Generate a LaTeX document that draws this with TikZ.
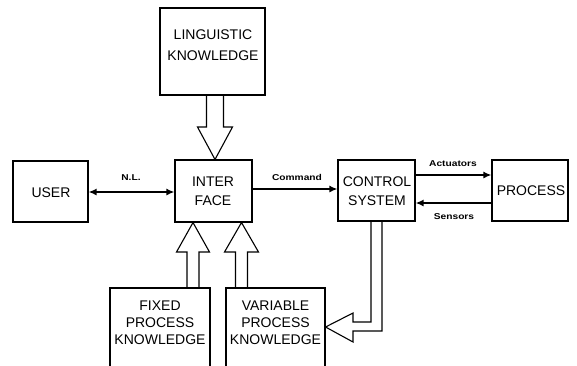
\documentclass[tikz,border=0pt]{standalone}
\usepackage{fontspec}
\setmainfont{Liberation Sans}
\usetikzlibrary{arrows.meta,calc}
\begin{document}
\begin{tikzpicture}[x=1pt,y=-1pt,
  box/.style={draw,line width=1.1pt,minimum width=#1,inner sep=0pt},
  boxtxt/.style={anchor=base,inner sep=0pt,font=\fontsize{14}{17}\selectfont},
  lbl/.style={inner sep=0pt,font=\fontsize{8.5}{10}\selectfont\bfseries},
  conn/.style={line width=1.7pt,-{Latex[length=8pt,width=7pt]}},
  hollow/.style={draw,line width=1.1pt,line join=miter}]
\useasboundingbox (0,0) rectangle (577,365);
\clip (0,0) rectangle (577,365);
% boxes
\node[box=105pt,minimum height=87pt] (ling) at (212.5,51.5) {};
\node[box=75pt,minimum height=61pt] (user) at (50.5,191.5) {};
\node[box=77pt,minimum height=62pt] (iface) at (213.5,191) {};
\node[box=77pt,minimum height=61pt] (ctrl) at (376.5,190.5) {};
\node[box=76pt,minimum height=61pt] (proc) at (530,190.5) {};
\node[box=100pt,minimum height=87pt] (fixed) at (160,331.5) {};
\node[box=99pt,minimum height=87pt] (var) at (275.5,331.5) {};
% box texts
\node[boxtxt] (lingA) at (213,39) {LINGUISTIC};
\node[boxtxt] (lingB) at (213,60) {KNOWLEDGE};
\node[boxtxt] (userA) at (51,197) {USER};
\node[boxtxt] (ifaceA) at (213,186) {INTER};
\node[boxtxt] (ifaceB) at (213,205) {FACE};
\node[boxtxt] (ctrlA) at (377,186) {CONTROL};
\node[boxtxt] (ctrlB) at (377,205) {SYSTEM};
\node[boxtxt] (procA) at (531,195) {PROCESS};
\node[boxtxt] (fixA) at (160,310) {FIXED};
\node[boxtxt] (fixB) at (160,327) {PROCESS};
\node[boxtxt] (fixC) at (160,344) {KNOWLEDGE};
\node[boxtxt] (varA) at (275.5,310) {VARIABLE};
\node[boxtxt] (varB) at (275.5,327) {PROCESS};
\node[boxtxt] (varC) at (275.5,344) {KNOWLEDGE};
% thin connectors
\draw[conn,{Latex[length=8pt,width=7pt]}-{Latex[length=8pt,width=7pt]}] (user.east |- 0,192) -- (iface.west |- 0,192);
\draw[conn] (iface.east |- 0,189) -- (ctrl.west |- 0,189);
\draw[conn] (ctrl.east |- 0,175) -- (proc.west |- 0,175);
\draw[conn] (proc.west |- 0,203) -- (ctrl.east |- 0,203);
% labels
\node[lbl] (nl) at (131,178) {\scalebox{1.2}[1]{N.L.}};
\node[lbl] (cmd) at (297,177) {\scalebox{1.2}[1]{Command}};
\node[lbl] (act) at (453,164) {\scalebox{1.2}[1]{Actuators}};
\node[lbl] (sen) at (454,217) {\scalebox{1.2}[1]{Sensors}};
% hollow arrows
\draw[hollow] (ling.south -| 206.5,0) -- (206.5,127) -- (197.5,127) -- (iface.north -| 215,0) -- (232.5,127) -- (223.5,127) -- (ling.south -| 223.5,0);
\draw[hollow] (fixed.north -| 187,0) -- (187,252) -- (176.5,252) -- (iface.south -| 193,0) -- (209.5,252) -- (199,252) -- (fixed.north -| 199,0);
\draw[hollow] (var.north -| 235.5,0) -- (235.5,252) -- (224.5,252) -- (iface.south -| 241.5,0) -- (258.5,252) -- (247.5,252) -- (var.north -| 247.5,0);
\draw[hollow] (ctrl.south -| 371,0) -- (371,322) -- (353,322) -- (353,313) -- (var.east |- 0,327) -- (353,342) -- (353,331) -- (382,331) -- (ctrl.south -| 382,0);
\end{tikzpicture}
\end{document}
